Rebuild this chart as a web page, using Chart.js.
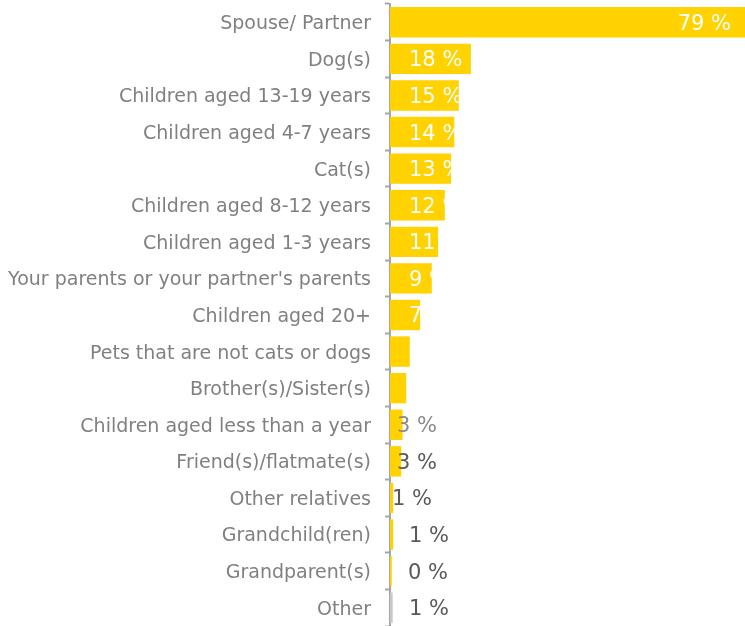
<!DOCTYPE html>
<html lang="en">
<head>
<meta charset="UTF-8">
<title>Household members</title>
<script src="https://cdn.jsdelivr.net/npm/chart.js"></script>
<style>
  html, body { margin: 0; padding: 0; background: #fff; }
  #wrap { width: 745px; height: 626px; }
</style>
</head>
<body>
<div id="wrap"><canvas id="chart" width="745" height="626"></canvas></div>
<script>
// Categories and values
const categories = [
    'Spouse/ Partner', 'Dog(s)', 'Children aged 13-19 years', 'Children aged 4-7 years',
    'Cat(s)', 'Children aged 8-12 years', 'Children aged 1-3 years',
    "Your parents or your partner's parents", 'Children aged 20+',
    'Pets that are not cats or dogs', 'Brother(s)/Sister(s)', 'Children aged less than a year',
    'Friend(s)/flatmate(s)', 'Other relatives', 'Grandchild(ren)', 'Grandparent(s)', 'Other'
];
const shares = [79, 18, 15.3, 14.3, 13.6, 12.2, 10.7, 9.3, 6.7, 4.4, 3.6, 2.8, 2.5, 0.7, 0.7, 0.4, 0.6];
const shareLabels = ['79 %', '18 %', '15 %', '14 %', '13 %', '12 %', '11 %', '9 %', '7 %', '4 %', '4 %',
    '3 %', '3 %', '1 %', '1 %', '0 %', '1 %'];
const axisMax = 79;

// how each value label is placed: 'end' = inside at the end, 'in' = white from the start (clipped), 'out' = grey
const labelMode = ['end', 'in', 'in', 'in', 'in', 'in', 'in', 'in', 'in', 'in', 'in',
    'out', 'out', 'out', 'out', 'out', 'out'];
const outOffset = [0, 0, 0, 0, 0, 0, 0, 0, 0, 0, 0, 7, 7, 2, 19, 18, 19];
const outColor = ['', '', '', '', '', '', '', '', '', '', '', '#8a8a8a', '#595959', '#595959', '#595959', '#595959', '#595959'];

const yellow = '#FFD200';
const barColors = categories.map((c, i) => i === categories.length - 1 ? '#c8c8c8' : yellow);

const valueLabels = {
    id: 'valueLabels',
    afterDatasetsDraw(chart) {
        const ctx = chart.ctx;
        const meta = chart.getDatasetMeta(0);
        ctx.save();
        ctx.font = '21px "DejaVu Sans", Verdana, sans-serif';
        ctx.textBaseline = 'middle';
        meta.data.forEach((bar, i) => {
            const y = bar.y + 2;
            const mode = labelMode[i];
            if (mode === 'end') {
                ctx.fillStyle = '#ffffff';
                ctx.textAlign = 'right';
                ctx.fillText(shareLabels[i], bar.x - 14, y);
            } else if (mode === 'in') {
                ctx.save();
                ctx.beginPath();
                ctx.rect(bar.base, bar.y - bar.height / 2, bar.x - bar.base, bar.height);
                ctx.clip();
                ctx.fillStyle = '#ffffff';
                ctx.textAlign = 'left';
                ctx.fillText(shareLabels[i], bar.base + 19, y);
                ctx.restore();
            } else {
                ctx.fillStyle = outColor[i];
                ctx.textAlign = 'left';
                ctx.fillText(shareLabels[i], bar.base + outOffset[i], y);
            }
        });
        ctx.restore();
    }
};

new Chart(document.getElementById('chart'), {
    type: 'bar',
    data: {
        labels: categories,
        datasets: [{
            data: shares,
            backgroundColor: barColors,
            borderWidth: 0,
            categoryPercentage: 0.83,
            barPercentage: 1.0
        }]
    },
    options: {
        indexAxis: 'y',
        responsive: false,
        animation: false,
        layout: { padding: { top: 4, right: 0, bottom: 0, left: 0 } },
        plugins: {
            legend: { display: false },
            tooltip: { enabled: false }
        },
        scales: {
            x: {
                display: false,
                min: 0,
                max: axisMax
            },
            y: {
                z: 1,
                afterFit(scale) {
                    scale.width = 390;
                    scale.paddingTop = 0;
                    scale.paddingBottom = 0;
                },
                grid: {
                    offset: true,
                    drawOnChartArea: false,
                    drawTicks: true,
                    tickLength: 5,
                    tickWidth: 2,
                    tickColor: '#a6a6a6'
                },
                border: { display: true, color: '#a6a6a6', width: 2 },
                ticks: {
                    color: '#808080',
                    padding: 14,
                    labelOffset: 2,
                    autoSkip: false,
                    font: { family: '"DejaVu Sans", Verdana, sans-serif', size: 19 }
                }
            }
        }
    },
    plugins: [valueLabels]
});
</script>
</body>
</html>
